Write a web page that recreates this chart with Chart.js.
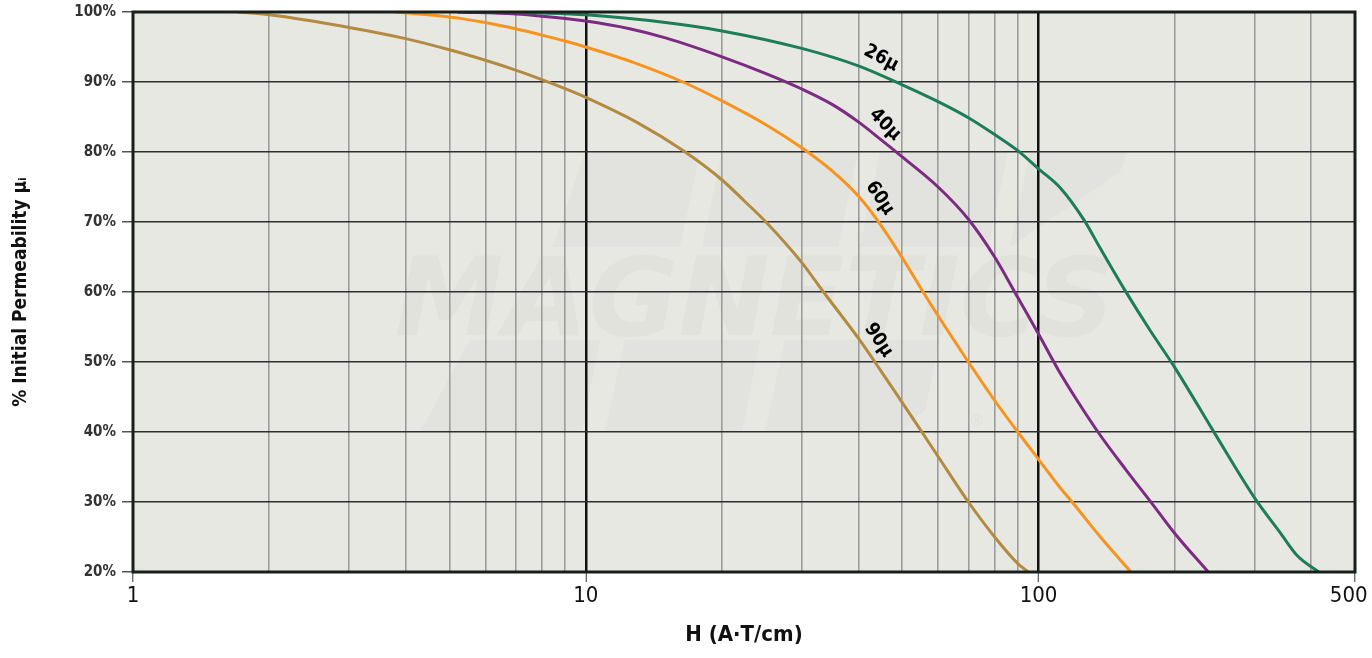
<!DOCTYPE html>
<html><head><meta charset="utf-8">
<script src="https://cdn.jsdelivr.net/npm/chart.js@4.4.1/dist/chart.umd.min.js"></script>
<style>html,body{margin:0;padding:0;background:#fff;}canvas{display:block;}</style>
</head><body>
<canvas id="c" width="1372" height="658"></canvas>
<script>
// ---- data ----
const xTickValues = [1,2,3,4,5,6,7,8,9,10,20,30,40,50,60,70,80,90,100,200,300,400,500];
const xLabeledTicks = [1,10,100,500];
const yTickValues = [20,30,40,50,60,70,80,90,100];

const seriesNames = ['26μ','40μ','60μ','90μ'];

const h26 = [6, 8, 10, 15, 20, 30, 40, 50, 60, 70, 80, 90, 100, 112, 126, 137, 155, 176, 200, 245, 300, 342, 372, 416];
const p26 = [100, 99.85, 99.6, 98.5, 97.3, 94.8, 92.3, 89.6, 87.2, 84.9, 82.5, 80.2, 77.6, 74.8, 70.3, 66.2, 60.3, 54.6, 49.2, 39.8, 30.6, 25.6, 22.4, 20];

const h40 = [5.2, 7, 8, 10, 12.5, 15, 20, 25, 30, 35, 40, 45, 50, 60, 70, 80, 90, 100, 110.5, 122, 137, 156, 179, 200, 237];
const p40 = [100, 99.7, 99.4, 98.7, 97.6, 96.3, 93.6, 91.2, 89.0, 86.8, 84.3, 81.7, 79.3, 75.0, 70.4, 65.0, 59.2, 54.0, 48.9, 44.4, 39.5, 34.6, 29.6, 25.5, 20];

const h60 = [3.8, 5, 6, 7, 8, 9, 10, 13, 16.4, 20, 25, 30, 35, 40, 44, 50, 55.6, 60, 70, 80, 90, 100, 110.5, 120, 137, 160];
const p60 = [100, 99.3, 98.5, 97.6, 96.7, 95.85, 95.0, 92.6, 90, 87.3, 83.9, 80.6, 77.3, 73.7, 70.3, 64.9, 60, 56.6, 50, 44.5, 40, 36.1, 32.4, 29.6, 25, 20];

const h90 = [1.7, 2, 3, 4, 5, 6, 7, 8, 9, 10, 13, 16.4, 20, 22.4, 25, 30, 33.5, 40, 45, 50, 55, 60, 70, 80, 90, 95];
const p90 = [100, 99.6, 97.8, 96.2, 94.6, 93.1, 91.7, 90.35, 89.05, 87.8, 84.2, 80.2, 76.0, 73.0, 70, 64.2, 60, 53.4, 48.6, 44.2, 40.2, 36.5, 30, 25, 21.2, 20];

// curve label anchors (data units) and angles
const labelH = [44.9, 45.8, 44.6, 44.3];
const labelP = [93.4, 83.9, 73.4, 53.1];
const labelAngle = [28, 45, 56, 56];

const colors = ['#1d7d58', '#7c2b83', '#f7941d', '#b38b40'];
const FONT = '"Liberation Sans Narrow", "DejaVu Sans Condensed", "Arial Narrow", sans-serif';

const seriesH = [h26, h40, h60, h90];
const seriesP = [p26, p40, p60, p90];

const datasets = seriesNames.map((n, i) => ({
  label: n,
  data: seriesH[i].map((h, j) => ({x: h, y: seriesP[i][j]})),
  borderColor: colors[i],
  borderWidth: 3,
  pointRadius: 0,
  fill: false,
  cubicInterpolationMode: 'monotone'
}));

const bgPlugin = {
  id: 'bg',
  beforeDraw(chart) {
    const {ctx: c, chartArea: a} = chart;
    c.save();
    c.fillStyle = '#e8e8e3';
    c.fillRect(a.left, a.top, a.width, a.height);
    c.beginPath(); c.rect(a.left, a.top, a.width, a.height); c.clip();
    const sx = a.width / 1222, sy = a.height / 560;
    const P = (x, y) => [a.left + (x - 133) * sx, a.top + (y - 12) * sy];
    const poly = (pts, col) => {
      c.fillStyle = col; c.beginPath();
      pts.forEach((p, k) => { const q = P(p[0], p[1]); k ? c.lineTo(q[0], q[1]) : c.moveTo(q[0], q[1]); });
      c.closePath(); c.fill();
    };
    const dark = 'rgba(90,95,80,0.035)';
    poly([[585,152],[700,152],[680,247],[553,247]], dark);
    poly([[722,152],[858,152],[838,247],[702,247]], dark);
    poly([[880,152],[1008,152],[988,247],[860,247]], dark);
    poly([[1030,152],[1127,152],[1120,172],[1010,247]], dark);
    poly([[470,340],[600,340],[582,432],[420,432]], dark);
    poly([[625,340],[760,340],[742,432],[605,432]], dark);
    poly([[785,340],[940,340],[925,410],[900,432],[765,432]], dark);
    c.fillStyle = 'rgba(90,95,80,0.045)';
    c.font = 'italic bold 108px "DejaVu Sans"';
    c.textBaseline = 'alphabetic';
    const t = 'MAGNETICS';
    const w = c.measureText(t).width;
    const p0 = P(395, 335);
    c.translate(p0[0], p0[1]);
    c.scale((720 * sx) / w, sy);
    c.fillText(t, 0, 0);
    c.restore();
    c.save();
    c.fillStyle = 'rgba(90,95,80,0.06)';
    c.font = '16px "DejaVu Sans"';
    const r = P(977, 422);
    c.textAlign = 'center'; c.textBaseline = 'middle';
    c.fillText('®', r[0], r[1]);
    c.restore();
  }
};

const framePlugin = {
  id: 'frame',
  afterDatasetsDraw(chart) {
    const {ctx: c, chartArea: a, scales} = chart;
    c.save();
    c.strokeStyle = '#16201a';
    c.lineWidth = 3;
    c.strokeRect(a.left, a.top, a.width, a.height);
    c.fillStyle = '#000';
    c.font = 'bold 19px ' + FONT;
    c.textAlign = 'center'; c.textBaseline = 'middle';
    seriesNames.forEach((n, i) => {
      const x = scales.x.getPixelForValue(labelH[i]);
      const y = scales.y.getPixelForValue(labelP[i]);
      c.save();
      c.translate(x, y);
      c.rotate(labelAngle[i] * Math.PI / 180);
      c.fillText(n, 0, 0);
      c.restore();
    });
    c.restore();
  }
};

Chart.defaults.font.family = FONT;

new Chart(document.getElementById('c'), {
  type: 'line',
  data: {datasets},
  options: {
    responsive: false,
    animation: false,
    devicePixelRatio: 1,
    layout: {padding: {top: 12, right: 17, left: 0, bottom: 0}},
    plugins: {legend: {display: false}, tooltip: {enabled: false}},
    scales: {
      x: {
        type: 'logarithmic',
        min: 1, max: 500,
        afterBuildTicks: s => { s.ticks = xTickValues.map(v => ({value: v})); },
        afterFit: s => { s.height = 86; s.paddingLeft = 0; s.paddingRight = 0; },
        border: {display: false},
        ticks: {
          autoSkip: false, maxRotation: 0, minRotation: 0, padding: 1,
          color: '#111', font: {size: 22},
          callback: v => xLabeledTicks.includes(v) ? (v === 500 ? '500\u2007' : String(v)) : ''
        },
        grid: {
          color: ctx => (ctx.tick && (ctx.tick.value === 10 || ctx.tick.value === 100)) ? '#111' : (ctx.tick && (ctx.tick.value === 1 || ctx.tick.value === 500) ? '#16201a' : '#9c9c9c'),
          lineWidth: ctx => (ctx.tick && (ctx.tick.value === 10 || ctx.tick.value === 100)) ? 2.5 : 1.6,
          tickLength: 10,
          tickColor: ctx => (ctx.tick && xLabeledTicks.includes(ctx.tick.value)) ? '#333' : 'rgba(0,0,0,0)',
          tickWidth: 1
        },
        title: {display: true, text: 'H (A·T/cm)', color: '#111', font: {size: 22, weight: 'bold'}, padding: {top: 0, bottom: 10}}
      },
      y: {
        min: 20, max: 100,
        afterBuildTicks: s => { s.ticks = yTickValues.map(v => ({value: v})); },
        afterFit: s => { s.width = 133; s.paddingTop = 0; s.paddingBottom = 0; },
        border: {display: false},
        ticks: {padding: 6, color: '#333', font: {size: 15, weight: 'bold'}, callback: v => v + '%'},
        grid: {color: '#2f2f2f', lineWidth: 1.5, tickLength: 11, tickColor: '#555', tickWidth: 1.5},
        title: {display: true, text: '% Initial Permeability μᵢ', color: '#111', font: {size: 19, weight: 'bold'}, padding: {top: 10, bottom: 0}}
      }
    }
  },
  plugins: [bgPlugin, framePlugin]
});
</script>
</body></html>
